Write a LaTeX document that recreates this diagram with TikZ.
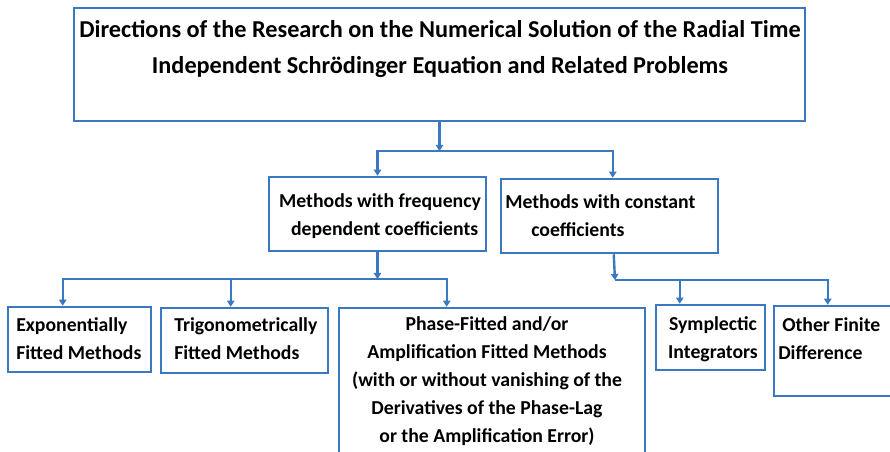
\documentclass[tikz,border=0pt]{standalone}
\usepackage{fontspec}
\setmainfont{Carlito}
\usetikzlibrary{arrows.meta,calc,positioning,fit}
\definecolor{linkblue}{HTML}{3A78C2}

\begin{document}
\begin{tikzpicture}[x=0.75pt,y=-0.75pt,
    box/.style={draw=linkblue,line width=1.9pt,inner sep=0pt},
    txt/.style={inner sep=0pt,font=\bfseries\fontsize{14.8}{21}\selectfont},
    arr/.style={draw=linkblue,line width=1.8pt,-{Triangle[length=4.5pt,width=5.5pt]}}]
  \useasboundingbox (0,0) rectangle (890,452);
  \clip (0,0) rectangle (890,452);
  % boxes
  \node[box,fit={(74,8) (805,121)}] (top) {};
  \node[box,fit={(269,177) (486,251)}] (freq) {};
  \node[box,fit={(501,179) (718,253)}] (const) {};
  \node[box,fit={(8,307) (151,372)}] (expo) {};
  \node[box,fit={(161,308) (328,373)}] (trig) {};
  \node[box,fit={(339,308) (645,470)}] (phase) {};
  \node[box,fit={(656,305) (765,370)}] (sympl) {};
  \node[box,fit={(774,306) (910,396)}] (other) {};
  % labels
  \node[txt,font=\bfseries\fontsize{18.2}{26.3}\selectfont,align=center] (toplbl) at (440,49)
    {Directions of the Research on the Numerical Solution of the Radial Time\\
     Independent Schrödinger Equation and Related Problems};
  \node[txt,align=center] (freqlbl) at (380,216)
    {Methods with frequency\\\hspace*{7pt}dependent coefficients};
  \node[txt,align=left,anchor=west] (constlbl) at (505,216)
    {Methods with constant\\\hspace*{19.5pt}coefficients};
  \node[txt,align=left,anchor=west] (expolbl) at (16,339)
    {Exponentially\\Fitted Methods};
  \node[txt,align=left,anchor=west] (triglbl) at (174,339)
    {Trigonometrically\\Fitted Methods};
  \node[txt,align=center] (phaselbl) at (487,381)
    {Phase-Fitted and/or\\Amplification Fitted Methods\\(with or without vanishing of the\\
     Derivatives of the Phase-Lag\\or the Amplification Error)};
  \node[txt,align=center] (sympllbl) at (713,339)
    {Symplectic\\Integrators};
  \node[txt,align=left,anchor=west] (otherlbl) at (778,339)
    {\hspace*{3pt}Other Finite\\Difference};
  % connectors
  \coordinate (j1) at (439.5,151);
  \coordinate (j2) at (377.5,279);
  \coordinate (j3) at (615,280);
  \draw[arr] (top.south) -- (j1);
  \draw[arr] (j1) -| (freq.north);
  \draw[arr] (j1) -| ($(const.north west)+(113,0)$);
  \draw[arr] (freq.south) -- (j2);
  \draw[arr] (j2) -| ($(expo.north west)+(56,0)$);
  \draw[arr] (j2) -| ($(trig.north west)+(71,0)$);
  \draw[arr] (j2) -| ($(phase.north west)+(109,0)$);
  \draw[arr] ($(const.south west)+(114,0)$) -- (j3);
  \draw[arr] (j3) -| ($(sympl.north west)+(25,0)$);
  \draw[arr] (j3) -| ($(other.north west)+(55,0)$);
\end{tikzpicture}
\end{document}
